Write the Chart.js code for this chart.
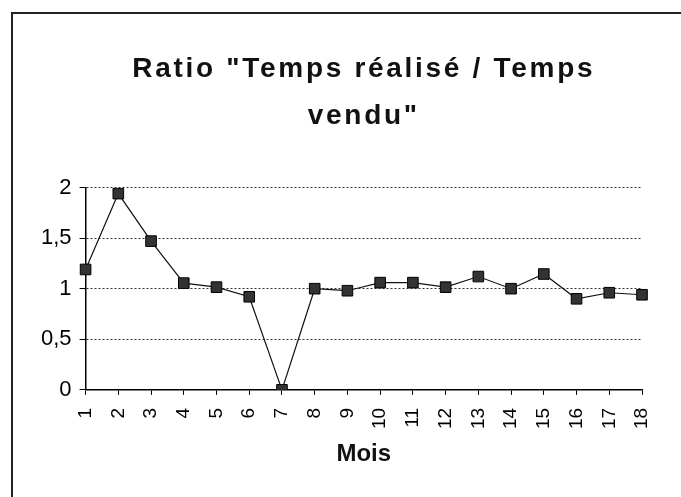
<!DOCTYPE html>
<html>
<head>
<meta charset="utf-8">
<script src="https://cdn.jsdelivr.net/npm/chart.js@4/dist/chart.umd.min.js"></script>
<style>
    html, body { margin: 0; padding: 0; background: #fff; overflow: hidden; }
    #wrap { position: relative; width: 681px; height: 497px; }
    #frame {
        position: absolute; left: 11px; top: 12px;
        width: 720px; height: 540px;
        border: 2px solid #222; box-sizing: border-box;
    }
    #ratioChart { position: absolute; left: 0; top: 0; }
</style>
</head>
<body>
<div id="wrap">
    <div id="frame"></div>
    <canvas id="ratioChart" width="681" height="497"></canvas>
</div>
<script>
// mois 1 à 18
const months = ['1', '2', '3', '4', '5', '6', '7', '8', '9', '10', '11', '12', '13', '14', '15', '16', '17', '18'];
// ratio temps réalisé / temps vendu
const ratios = [1.19, 1.94, 1.47, 1.055, 1.015, 0.92, 0, 1.0, 0.98, 1.06, 1.06, 1.015, 1.12, 1.0, 1.145, 0.9, 0.96, 0.94];
const titleLines = ['Ratio "Temps réalisé / Temps', 'vendu"'];

const fontFamily = '"Liberation Sans", Arial, sans-serif';

function commaDecimal(value) {
    return String(value).replace('.', ',');
}

// wide letter spacing on the title only
function spaceTitle(chart) {
    const block = chart.titleBlock;
    const draw = block.draw;
    block.draw = function () {
        const ctx = chart.ctx;
        ctx.save();
        ctx.letterSpacing = '2.7px';
        draw.apply(this, arguments);
        ctx.restore();
    };
    chart.draw();
}

document.addEventListener('DOMContentLoaded', () => {
    const ctx = document.getElementById('ratioChart').getContext('2d');
    const chart = new Chart(ctx, {
        type: 'line',
        data: {
            labels: months,
            datasets: [{
                data: ratios,
                borderColor: '#111',
                borderWidth: 1.2,
                pointStyle: 'rect',
                pointRadius: 7.5,
                pointBackgroundColor: '#333',
                pointBorderColor: '#000',
                pointBorderWidth: 1,
                tension: 0
            }]
        },
        options: {
            responsive: false,
            animation: false,
            layout: {
                padding: { left: 33, right: 39, top: 12, bottom: 28 }
            },
            plugins: {
                legend: { display: false },
                tooltip: { enabled: false },
                title: {
                    display: true,
                    fullSize: false, // centred over the plot area
                    text: titleLines,
                    color: '#111',
                    font: { family: fontFamily, size: 28, weight: 'bold', lineHeight: 1.67 },
                    padding: { top: 34, bottom: 48 }
                }
            },
            scales: {
                x: {
                    offset: false,
                    grid: {
                        drawOnChartArea: false,
                        color: '#000',
                        tickLength: 5,
                        tickBorderDash: []
                    },
                    border: { color: '#000', width: 1.5 },
                    ticks: {
                        autoSkip: false,
                        minRotation: 90,
                        maxRotation: 90,
                        padding: 13,
                        color: '#000',
                        font: { family: fontFamily, size: 19 }
                    },
                    title: {
                        display: true,
                        text: 'Mois',
                        color: '#111',
                        font: { family: fontFamily, size: 24, weight: 'bold', lineHeight: 1 },
                        padding: { top: 0, bottom: 3 }
                    }
                },
                y: {
                    min: 0,
                    max: 2,
                    grid: {
                        color: '#333',
                        lineWidth: 1,
                        tickLength: 6,
                        tickColor: '#000',
                        tickBorderDash: []
                    },
                    border: { color: '#000', width: 1.5, dash: [2, 2] },
                    ticks: {
                        stepSize: 0.5,
                        padding: 8,
                        color: '#000',
                        font: { family: fontFamily, size: 22 },
                        callback: value => commaDecimal(value)
                    }
                }
            }
        }
    });
    spaceTitle(chart);
});
</script>
</body>
</html>
